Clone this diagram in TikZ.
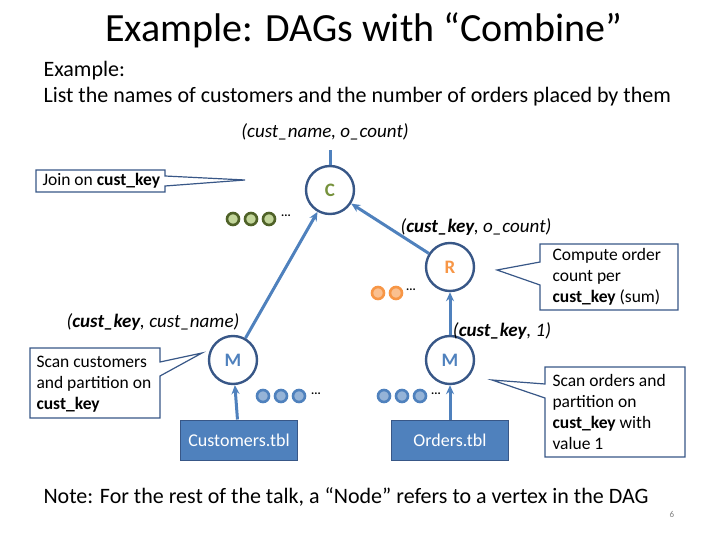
\documentclass[tikz,border=0pt]{standalone}
\usepackage{fontspec}
\setmainfont{Carlito}
\usetikzlibrary{arrows.meta,positioning}
\definecolor{opblue}{RGB}{79,129,189}
\definecolor{opline}{RGB}{56,87,135}
\definecolor{cgreen}{RGB}{118,146,60}
\definecolor{dgreen}{RGB}{79,98,40}
\definecolor{lgreen}{RGB}{195,214,155}
\definecolor{rorange}{RGB}{247,150,70}
\definecolor{lorange}{RGB}{250,192,144}
\definecolor{lblue}{RGB}{149,179,215}
\begin{document}
\begin{tikzpicture}[x=1pt,y=-1pt,>={Stealth[length=9pt,width=8pt]},
    op/.style={circle,draw=opline,line width=2.4pt,minimum size=48pt,font=\bfseries\fontsize{19}{22}\selectfont},
    tbl/.style={fill=opblue,draw=opline,line width=1pt,text=white,minimum width=117pt,minimum height=40pt,font=\fontsize{18}{20}\selectfont},
    flow/.style={->,draw=opblue,line width=3pt},
    lbl/.style={font=\fontsize{19}{22}\selectfont\itshape},
    note/.style={draw=opline,line width=1.2pt,fill=white},
    ntext/.style={font=\fontsize{17.5}{21}\selectfont},
    dot/.style={circle,line width=2.6pt,minimum size=12pt,inner sep=0pt}]
  \useasboundingbox (0,0) rectangle (720,540);
  \node[font=\fontsize{40}{44}\selectfont] (title) at (364,30) {Example: DAGs with “Combine”};
  \node[font=\fontsize{22}{26}\selectfont,align=left,anchor=north west] (intro) at (40,58)
    {Example:\\List the names of customers and the number of orders placed by them};

  \node[op,text=cgreen] (c) at (330,190) {C};
  \node[op,text=rorange] (r) at (450,267) {R};
  \node[op,text=opblue] (m1) at (233,360) {M};
  \node[op,text=opblue] (m2) at (450,360) {M};
  \node[tbl] (cust) at (239,440) {Customers.tbl};
  \node[tbl] (ord) at (450,440) {Orders.tbl};
  \coordinate (top) at (330,150);

  \draw[opblue,line width=3pt] (c) -- (top);
  \draw[flow] (cust) -- (m1);
  \draw[flow] (ord) -- (m2);
  \draw[flow] (m1) -- (c);
  \draw[flow] (m2) -- (r);
  \draw[flow] (r) -- (c);

  \node[lbl] (l0) at (325,132) {(cust\_name, o\_count)};
  \node[lbl] (l1) at (476,227) {({\bfseries cust\_key}, o\_count)};
  \node[lbl] (l2) at (153,322) {({\bfseries cust\_key}, cust\_name)};
  \node[lbl] (l3) at (502,331) {({\bfseries cust\_key}, 1)};

  % record dots
  \foreach \i in {0,1,2} {
    \node[dot,draw=dgreen,fill=lgreen] (g\i) at (233+\i*18,219) {};
    \node[dot,draw=opblue,fill=lblue] (b\i) at (263+\i*18,396) {};
    \node[dot,draw=opblue,fill=lblue] (d\i) at (384+\i*18,396) {};
  }
  \foreach \i in {0,1}
    \node[dot,draw=rorange,fill=lorange] (o\i) at (378+\i*18,293) {};
  \node[font=\bfseries\large] at (286,216) {...};
  \node[font=\bfseries\large] at (316,394) {...};
  \node[font=\bfseries\large] at (436,394) {...};
  \node[font=\bfseries\large] at (411,290) {...};

  % callouts
  \draw[note] (36,170) -- (165,170) -- (165,176) -- (245,180) -- (165,186) -- (165,192) -- (36,192) -- cycle;
  \node[ntext,anchor=west] (n1) at (39,181) {Join on {\bfseries cust\_key}};
  \draw[note] (540,244) -- (678,244) -- (678,310) -- (540,310) -- (540,285) -- (497,270) -- (540,262) -- cycle;
  \node[ntext,align=left,anchor=west] (n2) at (549,277) {Compute order\\count per\\{\bfseries cust\_key} (sum)};
  \draw[note] (30,348) -- (160,348) -- (160,362) -- (202,353) -- (160,376) -- (160,418) -- (30,418) -- cycle;
  \node[ntext,align=left,anchor=west] (n3) at (33,384) {Scan customers\\and partition on\\{\bfseries cust\_key}};
  \draw[note] (545,367) -- (685,367) -- (685,457) -- (545,457) -- (545,398) -- (492,380) -- (545,384) -- cycle;
  \node[ntext,align=left,anchor=west] (n4) at (549,412) {Scan orders and\\partition on\\{\bfseries cust\_key} with\\value 1};

  \node[font=\fontsize{22}{26}\selectfont,anchor=west] (foot) at (40,497) {Note: For the rest of the talk, a “Node” refers to a vertex in the DAG};
  \node[font=\small,text=gray] (pg) at (672,514) {6};
\end{tikzpicture}
\end{document}
